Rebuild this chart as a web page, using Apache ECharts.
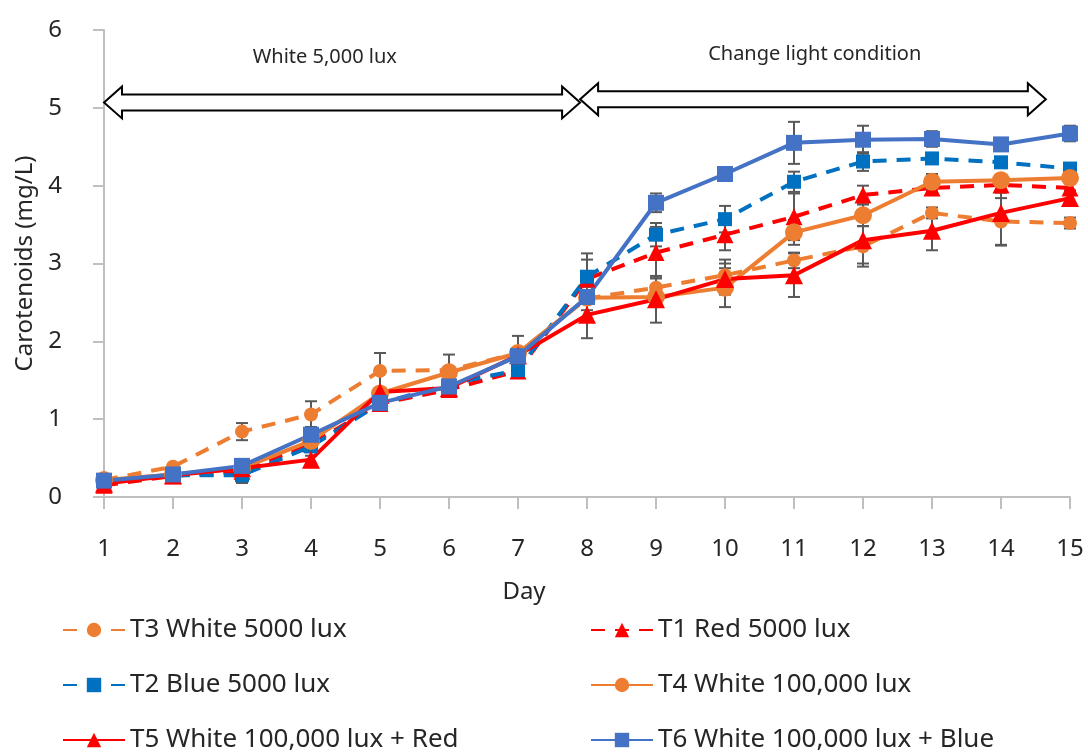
<!DOCTYPE html>
<html>
<head>
<meta charset="utf-8">
<script src="https://cdn.jsdelivr.net/npm/echarts@6/dist/echarts.min.js"></script>
<style>
  html, body { margin: 0; padding: 0; background: #fff; }
  #chart { width: 1088px; height: 754px; }
</style>
</head>
<body>
<div id="chart"></div>
<script>
// Carotenoid content (mg/L) by day for each light treatment
const days = [1, 2, 3, 4, 5, 6, 7, 8, 9, 10, 11, 12, 13, 14, 15];

const t3White5000 = [0.22, 0.39, 0.84, 1.06, 1.62, 1.63, 1.85, 2.55, 2.69, 2.85, 3.04, 3.22, 3.65, 3.54, 3.52];
const t1Red5000 = [0.15, 0.27, 0.33, 0.68, 1.20, 1.38, 1.62, 2.80, 3.14, 3.37, 3.60, 3.88, 3.97, 4.01, 3.97];
const t2Blue5000 = [0.20, 0.28, 0.28, 0.65, 1.20, 1.45, 1.63, 2.83, 3.37, 3.57, 4.05, 4.31, 4.35, 4.30, 4.22];
const t4White100k = [0.22, 0.29, 0.37, 0.72, 1.33, 1.60, 1.85, 2.56, 2.57, 2.69, 3.40, 3.62, 4.05, 4.07, 4.10];
const t5White100kRed = [0.17, 0.28, 0.37, 0.48, 1.35, 1.40, 1.82, 2.34, 2.54, 2.80, 2.85, 3.30, 3.42, 3.65, 3.84];
const t6White100kBlue = [0.21, 0.29, 0.40, 0.80, 1.21, 1.42, 1.81, 2.57, 3.78, 4.15, 4.55, 4.59, 4.60, 4.53, 4.67];

// Standard deviations (error bars)
const t3Err = [0.03, 0.03, 0.11, 0.17, 0.23, 0.20, 0.22, 0.15, 0.12, 0.20, 0.10, 0.26, 0.07, 0.30, 0.07];
const t1Err = [0.03, 0.03, 0.05, 0.05, 0.05, 0.05, 0.05, 0.25, 0.33, 0.20, 0.30, 0.12, 0.05, 0.10, 0.05];
const t2Err = [0.03, 0.03, 0.10, 0.05, 0.05, 0.05, 0.05, 0.30, 0.15, 0.17, 0.13, 0.12, 0.07, 0.05, 0.05];
const t4Err = [0.03, 0.03, 0.05, 0.05, 0.05, 0.05, 0.05, 0.05, 0.10, 0.25, 0.16, 0.14, 0.10, 0.05, 0.05];
const t5Err = [0.03, 0.03, 0.05, 0.05, 0.05, 0.05, 0.05, 0.30, 0.30, 0.20, 0.28, 0.30, 0.25, 0.42, 0.10];
const t6Err = [0.03, 0.03, 0.05, 0.10, 0.05, 0.05, 0.05, 0.05, 0.12, 0.05, 0.27, 0.18, 0.10, 0.08, 0.10];

const yTicks = [0, 1, 2, 3, 4, 5, 6];

// Light-period annotations
const periodStart = [1, 7.9];
const periodEnd = [7.9, 14.65];
const periodLevel = [5.07, 5.11];
const periodCaption = ['White 5,000 lux', 'Change light condition'];
const captionDay = [4.2, 11.3];
const captionLevel = [5.65, 5.69];

const FONT = 'Noto Sans';
const TEXT = '#262626';

const treatments = [
  { name: 'T3 White 5000 lux', data: t3White5000, err: t3Err, color: '#ED7D31', dash: true, symbol: 'circle', size: 14 },
  { name: 'T1 Red 5000 lux', data: t1Red5000, err: t1Err, color: '#FF0000', dash: true, symbol: 'triangle', size: 17 },
  { name: 'T2 Blue 5000 lux', data: t2Blue5000, err: t2Err, color: '#0070C0', dash: true, symbol: 'rect', size: 14 },
  { name: 'T4 White 100,000 lux', data: t4White100k, err: t4Err, color: '#ED7D31', dash: false, symbol: 'circle', size: 18 },
  { name: 'T5 White 100,000 lux + Red', data: t5White100kRed, err: t5Err, color: '#FF0000', dash: false, symbol: 'triangle', size: 18 },
  { name: 'T6 White 100,000 lux + Blue', data: t6White100kBlue, err: t6Err, color: '#4472C4', dash: false, symbol: 'rect', size: 16 }
];

function errorBarSeries(t) {
  return {
    type: 'custom',
    name: t.name + ' SD',
    silent: true,
    data: days.map((d, i) => [d, t.data[i] - t.err[i], t.data[i] + t.err[i]]),
    encode: { x: 0, y: [1, 2] },
    renderItem: function (params, api) {
      const lo = api.coord([api.value(0), api.value(1)]);
      const hi = api.coord([api.value(0), api.value(2)]);
      const cap = 6;
      const style = { stroke: '#595959', lineWidth: 2 };
      return {
        type: 'group',
        children: [
          { type: 'line', shape: { x1: lo[0], y1: lo[1], x2: hi[0], y2: hi[1] }, style },
          { type: 'line', shape: { x1: lo[0] - cap, y1: lo[1], x2: lo[0] + cap, y2: lo[1] }, style },
          { type: 'line', shape: { x1: hi[0] - cap, y1: hi[1], x2: hi[0] + cap, y2: hi[1] }, style }
        ]
      };
    }
  };
}

const series = [];
treatments.forEach(t => {
  series.push({
    type: 'line',
    name: t.name,
    data: days.map((d, i) => [d, t.data[i]]),
    symbol: t.symbol,
    symbolSize: t.size,
    showAllSymbol: true,
    lineStyle: { color: t.color, width: 4, type: t.dash ? [14, 10] : 'solid' },
    itemStyle: { color: t.color, borderWidth: 0 },
    emphasis: { disabled: true },
    animation: false
  });
  series.push(errorBarSeries(t));
});

const chart = echarts.init(document.getElementById('chart'), null, { renderer: 'canvas' });

const legendBase = {
  orient: 'vertical',
  top: 613,
  height: 160,
  padding: 0,
  itemWidth: 62,
  itemHeight: 18,
  itemGap: 21,
  textStyle: { fontFamily: FONT, fontSize: 26, lineHeight: 34, color: TEXT },
  selectedMode: false
};

chart.setOption({
  animation: false,
  textStyle: { fontFamily: FONT },
  grid: { left: 104, right: 18, top: 30, bottom: 257, containLabel: false },
  title: {
    text: 'Day',
    left: 519,
    top: 575,
    textAlign: 'center',
    textStyle: { fontFamily: FONT, fontSize: 24, fontWeight: 'normal', color: TEXT }
  },
  legend: [
    Object.assign({}, legendBase, { left: 62, data: [treatments[0].name, treatments[2].name, treatments[4].name] }),
    Object.assign({}, legendBase, { left: 590, data: [treatments[1].name, treatments[3].name, treatments[5].name] })
  ],
  xAxis: {
    type: 'value',
    min: 1,
    max: 15,
    interval: 1,
    splitLine: { show: false },
    axisLine: { lineStyle: { color: '#BFBFBF', width: 2 } },
    axisTick: { show: true, length: 12, lineStyle: { color: '#BFBFBF', width: 2 } },
    axisLabel: { margin: 40, fontFamily: FONT, fontSize: 24, color: TEXT }
  },
  yAxis: {
    type: 'value',
    min: yTicks[0],
    max: yTicks[yTicks.length - 1],
    interval: 1,
    name: 'Carotenoids (mg/L)',
    nameLocation: 'middle',
    nameGap: 62,
    nameTextStyle: { fontFamily: FONT, fontSize: 24, color: TEXT, verticalAlign: 'middle' },
    splitLine: { show: false },
    axisLine: { show: true, lineStyle: { color: '#BFBFBF', width: 2 } },
    axisTick: { show: true, length: 11, lineStyle: { color: '#BFBFBF', width: 2 } },
    axisLabel: { margin: 42, fontFamily: FONT, fontSize: 24, color: TEXT }
  },
  series: series
});

// Outlined double-headed block arrow between two x positions
function doubleArrow(x0, x1, yc) {
  const s = 8, h = 16, L = 18;
  return {
    type: 'polygon',
    z: 100,
    shape: {
      points: [
        [x0, yc], [x0 + L, yc - h], [x0 + L, yc - s], [x1 - L, yc - s], [x1 - L, yc - h],
        [x1, yc], [x1 - L, yc + h], [x1 - L, yc + s], [x0 + L, yc + s], [x0 + L, yc + h]
      ]
    },
    style: { fill: '#fff', stroke: '#000', lineWidth: 2, lineJoin: 'miter' }
  };
}

const graphics = [];
for (let i = 0; i < periodStart.length; i++) {
  const a = chart.convertToPixel({ xAxisIndex: 0, yAxisIndex: 0 }, [periodStart[i], periodLevel[i]]);
  const b = chart.convertToPixel({ xAxisIndex: 0, yAxisIndex: 0 }, [periodEnd[i], periodLevel[i]]);
  graphics.push(doubleArrow(a[0], b[0], a[1]));
  const c = chart.convertToPixel({ xAxisIndex: 0, yAxisIndex: 0 }, [captionDay[i], captionLevel[i]]);
  graphics.push({
    type: 'text',
    x: c[0],
    y: c[1],
    z: 100,
    style: { text: periodCaption[i], fontFamily: FONT, fontSize: 20, fill: TEXT, align: 'center', verticalAlign: 'middle' }
  });
}
chart.setOption({ graphic: graphics });
</script>
</body>
</html>
